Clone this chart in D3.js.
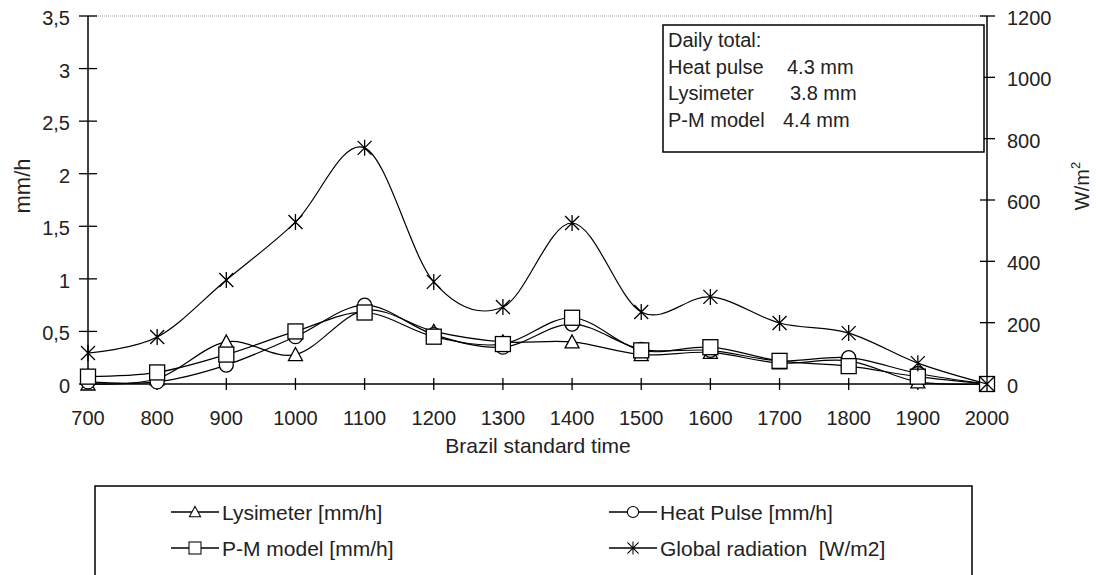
<!DOCTYPE html>
<html>
<head>
<meta charset="utf-8">
<script src="https://cdn.jsdelivr.net/npm/d3@7"></script>
<style>
  body { margin: 0; background: #fff; }
  svg text { font-family: "Liberation Sans", Arial, sans-serif; fill: #222; white-space: pre; }
</style>
</head>
<body>
<svg id="chart" width="1096" height="575"></svg>
<script>

// Data
var hours = [700, 800, 900, 1000, 1100, 1200, 1300, 1400, 1500, 1600, 1700, 1800, 1900, 2000];
var lysimeter = [0.00, 0.05, 0.40, 0.28, 0.70, 0.50, 0.40, 0.40, 0.28, 0.30, 0.20, 0.22, 0.02, 0.00];
var heatPulse = [0.02, 0.02, 0.18, 0.45, 0.75, 0.47, 0.35, 0.57, 0.33, 0.32, 0.22, 0.25, 0.10, 0.00];
var pmModel = [0.07, 0.11, 0.28, 0.50, 0.68, 0.45, 0.38, 0.63, 0.32, 0.35, 0.22, 0.17, 0.07, 0.00];
var radiation = [101, 153, 339, 528, 770, 333, 251, 525, 235, 284, 199, 166, 68, 0];

var leftTicks = [0, 0.5, 1, 1.5, 2, 2.5, 3, 3.5];
var rightTicks = [0, 200, 400, 600, 800, 1000, 1200];

var dailyTotals = [
	['Daily total:', ''],
	['Heat pulse', '4.3 mm'],
	['Lysimeter', '3.8 mm'],
	['P-M model', '4.4 mm']
];

var legendItems = [
	{label: 'Lysimeter [mm/h]', marker: 'triangle'},
	{label: 'Heat Pulse [mm/h]', marker: 'circle'},
	{label: 'P-M model [mm/h]', marker: 'square'},
	{label: 'Global radiation  [W/m2]', marker: 'star'}
];

var svg = d3.select('#chart');

// plot area edges
var pLeft = 88, pRight = 987, pTop = 16, pBottom = 384;

var x = d3.scaleLinear().domain([700, 2000]).range([pLeft, pRight]);
var yL = d3.scaleLinear().domain([0, 3.5]).range([pBottom, pTop]);
var yR = d3.scaleLinear().domain([0, 1200]).range([pBottom, pTop]);

// comma as decimal separator
function fmtComma(d) {
	return String(d).replace('.', ',');
};

// Draw one marker shape centred at 0,0
function drawMarker(g, type) {
	if (type == 'triangle') {
		g.append('path').attr('d', 'M0,-7L7,6L-7,6Z')
		 .attr('fill', '#fff').attr('stroke', '#000').attr('stroke-width', 1.3);
	} else if (type == 'circle') {
		g.append('circle').attr('r', 7)
		 .attr('fill', '#fff').attr('stroke', '#000').attr('stroke-width', 1.3);
	} else if (type == 'square') {
		g.append('rect').attr('x', -7.5).attr('y', -7.5).attr('width', 15).attr('height', 15)
		 .attr('fill', '#fff').attr('stroke', '#000').attr('stroke-width', 1.3);
	} else {
		g.append('path').attr('d', 'M-7,-7L7,7M-7,7L7,-7M0,-8L0,8')
		 .attr('fill', 'none').attr('stroke', '#000').attr('stroke-width', 1.3);
	};
};

// Top frame line (dotted grey)
svg.append('line')
	.attr('x1', pLeft).attr('x2', pRight).attr('y1', pTop).attr('y2', pTop)
	.attr('stroke', '#999').attr('stroke-dasharray', '1,1');

// Left axis
var axL = svg.append('g').attr('transform', 'translate(' + pLeft + ',0)');
axL.append('line').attr('y1', pTop).attr('y2', pBottom).attr('stroke', '#000').attr('stroke-width', 1.5);
axL.selectAll('.tk').data(leftTicks).enter().append('line')
	.attr('x1', -9).attr('x2', 9)
	.attr('y1', function(d) { return yL(d); }).attr('y2', function(d) { return yL(d); })
	.attr('stroke', '#000').attr('stroke-width', 1.3);
axL.selectAll('text').data(leftTicks).enter().append('text')
	.attr('x', -18).attr('y', function(d) { return yL(d) + 9; })
	.attr('text-anchor', 'end').style('font-size', '20px')
	.text(fmtComma);

// Right axis
var axR = svg.append('g').attr('transform', 'translate(' + pRight + ',0)');
axR.append('line').attr('y1', pTop).attr('y2', pBottom).attr('stroke', '#000').attr('stroke-width', 1.5);
axR.selectAll('.tk').data(rightTicks).enter().append('line')
	.attr('x1', -7).attr('x2', 8)
	.attr('y1', function(d) { return yR(d); }).attr('y2', function(d) { return yR(d); })
	.attr('stroke', '#000').attr('stroke-width', 1.3);
axR.selectAll('text').data(rightTicks).enter().append('text')
	.attr('x', 20).attr('y', function(d) { return yR(d) + 9; })
	.attr('text-anchor', 'start').style('font-size', '20px')
	.text(function(d) { return d; });

// Bottom axis
var axB = svg.append('g').attr('transform', 'translate(0,' + pBottom + ')');
axB.append('line').attr('x1', pLeft).attr('x2', pRight).attr('stroke', '#000').attr('stroke-width', 1.5);
axB.selectAll('.tk').data(hours).enter().append('line')
	.attr('x1', function(d) { return x(d); }).attr('x2', function(d) { return x(d); })
	.attr('y1', -6).attr('y2', 6)
	.attr('stroke', '#000').attr('stroke-width', 1.3);
axB.selectAll('text').data(hours).enter().append('text')
	.attr('x', function(d) { return x(d); }).attr('y', 41)
	.attr('text-anchor', 'middle').style('font-size', '20px')
	.text(function(d) { return d; });

// Axis titles
svg.append('text').attr('x', 538).attr('y', 453).attr('text-anchor', 'middle')
	.style('font-size', '21px').text('Brazil standard time');

svg.append('text').attr('transform', 'translate(30,186) rotate(-90)')
	.attr('text-anchor', 'middle').style('font-size', '22px').text('mm/h');

var wm = svg.append('text').attr('transform', 'translate(1089,186) rotate(-90)')
	.attr('text-anchor', 'middle').style('font-size', '20px');
wm.append('tspan').text('W/m');
wm.append('tspan').attr('dy', -9).style('font-size', '13px').text('2');

// Series: line then markers
var lineL = d3.line()
	.x(function(d, i) { return x(hours[i]); })
	.y(function(d) { return yL(d); })
	.curve(d3.curveCatmullRom.alpha(0));

var lineR = d3.line()
	.x(function(d, i) { return x(hours[i]); })
	.y(function(d) { return yR(d); })
	.curve(d3.curveCatmullRom.alpha(0));

function drawSeries(values, lineGen, yScale, marker) {
	svg.append('path').datum(values)
		.attr('d', lineGen)
		.attr('fill', 'none').attr('stroke', '#000').attr('stroke-width', 1.2);
	svg.selectAll('.m-' + marker).data(values).enter().append('g')
		.attr('class', 'm-' + marker)
		.attr('transform', function(d, i) { return 'translate(' + x(hours[i]) + ',' + yScale(d) + ')'; })
		.each(function() { drawMarker(d3.select(this), marker); });
};

drawSeries(lysimeter, lineL, yL, 'triangle');
drawSeries(heatPulse, lineL, yL, 'circle');
drawSeries(pmModel, lineL, yL, 'square');
drawSeries(radiation, lineR, yR, 'star');

// Daily total box
var valX = [0, 787, 790, 783];
var box = svg.append('g');
box.append('rect').attr('x', 663).attr('y', 25).attr('width', 321).attr('height', 127)
	.attr('fill', '#fff').attr('stroke', '#000').attr('stroke-width', 1.5);
box.selectAll('.lbl').data(dailyTotals).enter().append('text')
	.attr('x', 668).attr('y', function(d, i) { return 47 + i * 26.5; })
	.style('font-size', '20px')
	.text(function(d) { return d[0]; });
box.selectAll('.val').data(dailyTotals).enter().append('text')
	.attr('x', function(d, i) { return valX[i]; })
	.attr('y', function(d, i) { return 47 + i * 26.5; })
	.style('font-size', '20px')
	.text(function(d) { return d[1]; });

// Legend
var leg = svg.append('g');
leg.append('rect').attr('x', 95).attr('y', 486).attr('width', 877).attr('height', 120)
	.attr('fill', 'none').attr('stroke', '#000').attr('stroke-width', 1.5);

var legCols = [195, 633], legRows = [512, 548];
legendItems.forEach(function(item, i) {
	var gx = legCols[i % 2], gy = legRows[Math.floor(i / 2)];
	var g = leg.append('g').attr('transform', 'translate(' + gx + ',' + gy + ')');
	g.append('line').attr('x1', -24).attr('x2', 24).attr('stroke', '#000').attr('stroke-width', 1.3);
	drawMarker(g.append('g').attr('transform', 'scale(0.8)'), item.marker);
	g.append('text').attr('x', 27).attr('y', 8).style('font-size', '21px').text(item.label);
});

</script>
</body>
</html>
